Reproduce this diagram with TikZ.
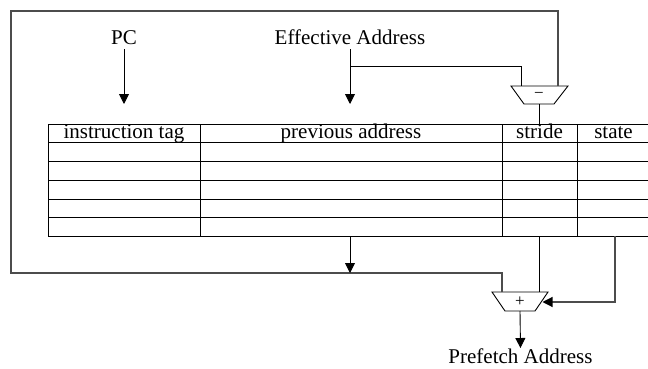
\documentclass[tikz,border=0pt]{standalone}
\usepackage{fontspec}
\setmainfont{Liberation Serif}
\usetikzlibrary{arrows.meta}
\begin{document}
\begin{tikzpicture}[x=1pt,y=-1pt,
  wire/.style={draw=black, line width=0.9pt},
  loopwire/.style={draw=black!70, line width=1.1pt},
  arr/.style={-{Triangle[width=10pt,length=10pt,color=black]}},
  lbl/.style={font=\fontsize{21}{24}\selectfont, inner sep=0pt, anchor=base},
  oplbl/.style={font=\fontsize{17}{20}\selectfont, inner sep=0pt},
  alu/.style={draw=black, line width=0.9pt, line join=miter},
  grid/.style={draw=black, line width=0.9pt}]
\useasboundingbox (0,0) rectangle (648,369);

% labels
\node[lbl] (pc) at (124,45) {PC};
\node[lbl] (ea) at (350,45) {Effective Address};
\node[lbl] (pf) at (520.5,363) {Prefetch Address};

% table
\draw[grid] (648,124) -- (48,124) -- (48,236) -- (648,236);
\foreach \yy in {142.5,161,180,199,217.5} {\draw[grid] (48,\yy) -- (648,\yy);}
\foreach \xx in {200,502,577} {\draw[grid] (\xx,124) -- (\xx,236);}
\node[lbl] (h1) at (124,138.5) {instruction tag};
\node[lbl] (h2) at (351,138.5) {previous address};
\node[lbl] (h3) at (539.5,138.5) {stride};
\node[lbl] (h4) at (613.5,138.5) {state};

% table anchor points
\coordinate (pcin) at (124,104);
\coordinate (eain) at (350,104);
\coordinate (strin) at (539,124);
\coordinate (prevout) at (350,236);
\coordinate (strout) at (539,236);
\coordinate (stout) at (615,236);

% subtractor
\draw[alu] (511,86) -- (568,86) -- (554,104) -- (524,104) -- cycle;
\node[oplbl] (sub) at (539,95) {−};
\coordinate (subin1) at (521,86);
\coordinate (subin2) at (558,86);
\coordinate (subout) at (539,104);

% adder
\draw[alu] (492,292) -- (548,292) -- (535,311) -- (505,311) -- cycle;
\node[oplbl] (add) at (520,301.5) {+};
\coordinate (addin1) at (502,292);
\coordinate (addin2) at (539,292);
\coordinate (addin3) at (542.5,302);
\coordinate (addout) at (520,311);

% junctions
\coordinate (eaj) at (350,66);
\coordinate (jb) at (350,273);
\coordinate (lpbl) at (11,273);
\coordinate (lptl) at (11,11);
\coordinate (lptr) at (558,11);

% connectors
\draw[wire,arr] ([yshift=-4pt]pc.south) -- (pcin);
\draw[wire,arr] ([yshift=-4pt]ea.south) -- (eain);
\draw[wire] (eaj) -| (subin1);
\draw[wire] (subout) -- (strin);
\draw[loopwire] (addin1) |- (lpbl) -- (lptl) -- (lptr) -- (subin2);
\draw[wire,arr] (prevout) -- (jb);
\draw[wire] (strout) -- (addin2);
\draw[loopwire,arr] (stout) |- (addin3);
\draw[wire,arr] (addout) -- (pf.north);
\end{tikzpicture}
\end{document}
